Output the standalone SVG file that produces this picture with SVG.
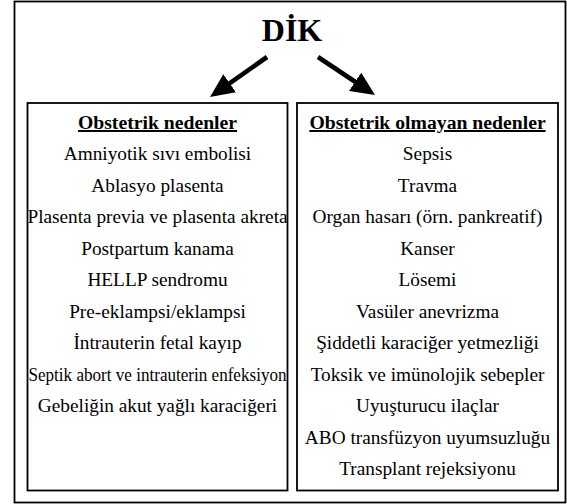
<svg xmlns="http://www.w3.org/2000/svg" width="567" height="504" viewBox="0 0 567 504">
<style>
.box{fill:#fff;stroke:#000;stroke-width:1.8}
text{font-family:'Liberation Serif','Times New Roman','DejaVu Serif',serif;fill:#000;text-anchor:middle}
.t{font-size:19.3px}
.h{font-size:19.7px;font-weight:bold;text-decoration:underline}
.title{font-size:32px;font-weight:bold}
.arr{stroke:#000;stroke-width:4.6;fill:none}
</style>
<defs>
<marker id="ah" markerUnits="userSpaceOnUse" markerWidth="24" markerHeight="22" viewBox="0 0 24 22" refX="14" refY="11" orient="auto">
<path d="M0,0 L24,11 L0,22 z" fill="#000"/>
</marker>
</defs>
<rect id="frame" x="14.5" y="1.5" width="551" height="501" fill="#fff" stroke="#000" stroke-width="1.8"/>
<g id="title"><text class="title" x="292" y="41" font-family="Liberation Serif, serif">DİK</text></g>
<g id="connectors">
<line class="arr" x1="267" y1="57" x2="218.2" y2="91.3" marker-end="url(#ah)"/>
<line class="arr" x1="318" y1="57" x2="366.7" y2="89.5" marker-end="url(#ah)"/>
</g>
<g id="obstetric">
<rect class="box" x="27.5" y="103" width="260" height="387.5"/>
<text class="h" x="157.5" y="129">Obstetrik nedenler</text>
<text class="t" x="157.5" y="160">Amniyotik sıvı embolisi</text>
<text class="t" x="157.5" y="191.5">Ablasyo plasenta</text>
<text class="t" x="157.5" y="223">Plasenta previa ve plasenta akreta</text>
<text class="t" x="157.5" y="254.5">Postpartum kanama</text>
<text class="t" x="157.5" y="286">HELLP sendromu</text>
<text class="t" x="157.5" y="317.5">Pre-eklampsi/eklampsi</text>
<text class="t" x="157.5" y="349">İntrauterin fetal kayıp</text>
<text class="t" x="157.5" y="380.5" textLength="258" lengthAdjust="spacingAndGlyphs">Septik abort ve intrauterin enfeksiyon</text>
<text class="t" x="157.5" y="412">Gebeliğin akut yağlı karaciğeri</text>
</g>
<g id="nonobstetric">
<rect class="box" x="297" y="103" width="261" height="387.5"/>
<text class="h" x="427.5" y="129">Obstetrik olmayan nedenler</text>
<text class="t" x="427.5" y="160">Sepsis</text>
<text class="t" x="427.5" y="191.5">Travma</text>
<text class="t" x="427.5" y="223">Organ hasarı (örn. pankreatif)</text>
<text class="t" x="427.5" y="254.5">Kanser</text>
<text class="t" x="427.5" y="286">Lösemi</text>
<text class="t" x="427.5" y="317.5">Vasüler anevrizma</text>
<text class="t" x="427.5" y="349">Şiddetli karaciğer yetmezliği</text>
<text class="t" x="427.5" y="380.5">Toksik ve imünolojik sebepler</text>
<text class="t" x="427.5" y="412">Uyuşturucu ilaçlar</text>
<text class="t" x="427.5" y="443.5">ABO transfüzyon uyumsuzluğu</text>
<text class="t" x="427.5" y="475">Transplant rejeksiyonu</text>
</g>
</svg>
